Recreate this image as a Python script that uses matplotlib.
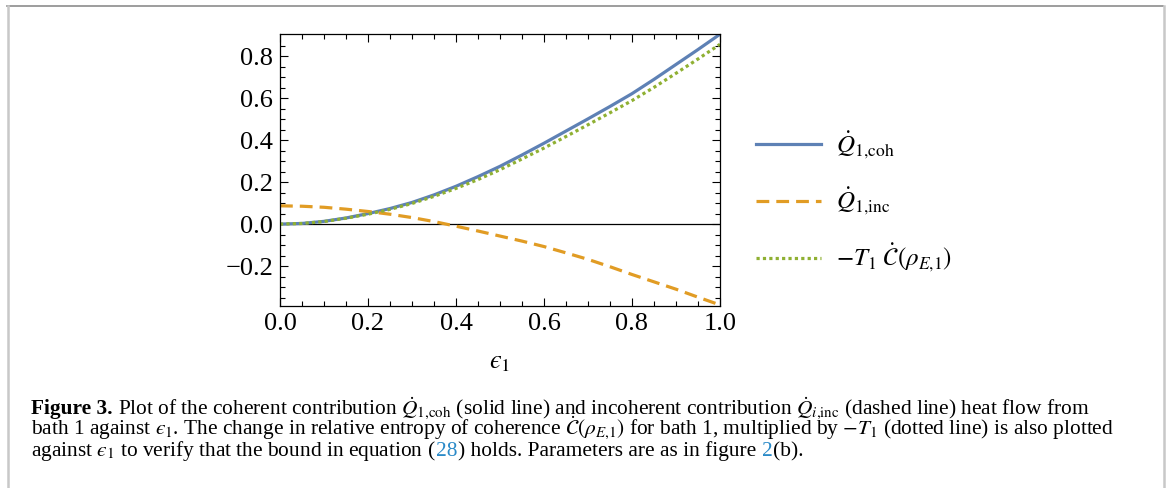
import matplotlib
matplotlib.use("Agg")
import matplotlib.pyplot as plt
import numpy as np

plt.rcParams['font.family'] = ['Liberation Serif', 'DejaVu Serif']
plt.rcParams['mathtext.fontset'] = 'stix'

# eps_1 grid
eps = [0.00, 0.05, 0.10, 0.15, 0.20, 0.25, 0.30, 0.35, 0.40, 0.45, 0.50,
       0.55, 0.60, 0.65, 0.70, 0.75, 0.80, 0.85, 0.90, 0.95, 1.00]
# coherent heat flow
q_coh = [0.000, 0.003, 0.013, 0.029, 0.050, 0.074, 0.103, 0.139, 0.180, 0.226, 0.275,
         0.329, 0.385, 0.443, 0.501, 0.560, 0.621, 0.689, 0.760, 0.831, 0.904]
# incoherent heat flow
q_inc = [0.087, 0.085, 0.080, 0.071, 0.060, 0.047, 0.031, 0.012, -0.010, -0.033, -0.057,
         -0.081, -0.107, -0.137, -0.168, -0.203, -0.240, -0.275, -0.310, -0.348, -0.385]
# -T1 * dC/dt
t_c = [0.000, 0.003, 0.012, 0.028, 0.047, 0.070, 0.098, 0.132, 0.170, 0.212, 0.259,
       0.310, 0.362, 0.417, 0.473, 0.530, 0.588, 0.651, 0.718, 0.786, 0.856]

labels = [r'$\dot{Q}_{1{,}\mathrm{coh}}$', r'$\dot{Q}_{1{,}\mathrm{inc}}$',
          r'$-T_1\ \dot{\mathcal{C}}(\rho_{E{,}1})$']
colors = ['#5e81b5', '#e19c24', '#8fb032']
EPS = '\u03f5'

W, H = 1167, 488
fig = plt.figure(figsize=(W / 100, H / 100), dpi=100)
ax = fig.add_axes([280 / W, 1 - 306 / H, 440 / W, 272 / H])

ax.plot(eps, q_coh, color=colors[0], lw=2.3, label=labels[0])
ax.plot(eps, q_inc, color=colors[1], lw=2.3, dashes=(4, 2.2), label=labels[1])
ax.plot(eps, t_c, color=colors[2], lw=2.3, dashes=(1, 1), dash_capstyle='butt', label=labels[2])
ax.axhline(0, color='black', lw=0.9, zorder=0)

ax.set_xlim(0, 1)
ax.set_ylim(-0.39, 0.905)
ax.set_xticks(np.arange(0, 1.01, 0.2))
ax.set_xticks(np.arange(0, 1.01, 0.05), minor=True)
ax.set_yticks([-0.2, 0.0, 0.2, 0.4, 0.6, 0.8])
ax.set_yticks(np.arange(-0.35, 0.9, 0.05), minor=True)
ax.xaxis.set_major_formatter(matplotlib.ticker.FormatStrFormatter('%.1f'))
ax.yaxis.set_major_formatter(matplotlib.ticker.FuncFormatter(
    lambda v, p: ('\u2212%.1f' % abs(v)) if v < -1e-9 else '%.1f' % abs(v)))
ax.tick_params(which='both', direction='in', top=True, right=True, width=0.8,
               labelsize=19, pad=5)
ax.tick_params(which='major', length=6)
ax.tick_params(which='minor', length=3.5)
for s in ax.spines.values():
    s.set_linewidth(0.9)
ax.set_xlabel('$' + EPS + '_1$', fontsize=19, labelpad=12)

fig.legend(loc='center left', bbox_to_anchor=(733 / W, 1 - 202 / H), frameon=False,
           fontsize=18, handlelength=2.6, handletextpad=0.6, labelspacing=1.0)

# border (open at the bottom)
fig.add_artist(plt.Line2D([7 / W, 1163 / W], [1 - 6 / H, 1 - 6 / H], color='#8c8c8c', lw=1.2))
fig.add_artist(plt.Line2D([7.5 / W, 7.5 / W], [0, 1 - 6 / H], color='#c8c8c8', lw=1.8))
fig.add_artist(plt.Line2D([1163.5 / W, 1163.5 / W], [0, 1 - 6 / H], color='#c8c8c8', lw=1.8))

# caption, written piece by piece so some parts can be bold or blue
link = '#2a8ac8'
cap_fs = 15.4
space = cap_fs * 0.25 * 100 / 72
lines = [
    [('Figure 3.', 'black', 'bold', 0),
     (r'Plot of the coherent contribution $\dot{Q}_{1{,}\mathrm{coh}}$ (solid line) and incoherent '
      r'contribution $\dot{Q}_{i{,}\mathrm{inc}}$ (dashed line) heat flow from', 'black', 'normal', space)],
    ['bath 1 against $' + EPS + r'_1$. The change in relative entropy of coherence '
     r'$\dot{\mathcal{C}}(\rho_{E{,}1})$ for bath 1, multiplied by $-T_1$ (dotted line) is also plotted',
     ],
    [('against $' + EPS + '_1$ to verify that the bound in equation (', 'black', 'normal', 0),
     ('28', link, 'normal', 0),
     (') holds. Parameters are as in figure', 'black', 'normal', 0),
     ('2', link, 'normal', space),
     ('(b).', 'black', 'normal', 0)],
]
lines[1] = [(lines[1][0], 'black', 'normal', 0)]
baselines = [414, 435, 456]
renderer = fig.canvas.get_renderer()
for pieces, yb in zip(lines, baselines):
    x = 31
    for txt, col, wt, gap in pieces:
        x += gap
        t = fig.text(x / W, 1 - yb / H, txt, color=col, fontweight=wt, fontsize=cap_fs,
                     ha='left', va='baseline')
        bb = t.get_window_extent(renderer)
        x = bb.x1 + 0.3

fig.savefig('out.png', dpi=100)
